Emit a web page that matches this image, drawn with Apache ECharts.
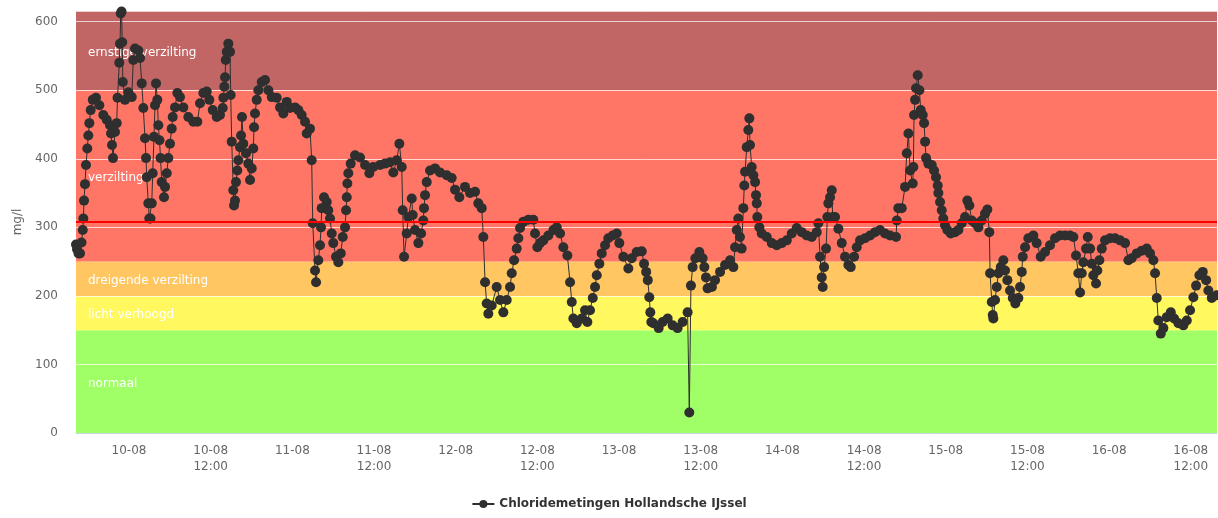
<!DOCTYPE html>
<html>
<head>
<meta charset="utf-8">
<title>Chloridemetingen Hollandsche IJssel</title>
<script src="https://cdn.jsdelivr.net/npm/echarts@6.0.0/dist/echarts.min.js"></script>
<style>
  html, body { margin: 0; padding: 0; background: #fff; }
  #chart { width: 1218px; height: 518px; }
</style>
</head>
<body>
<div id="chart"></div>
<script>
// hours after 10-08 00:00
const hours = [
  -7.79, -7.64, -7.42, -7.20, -6.98, -6.80, -6.71, -6.61, -6.47, -6.32, -6.13, -5.98, -5.83, -5.63, -5.33, -4.85,
  -4.36, -3.78, -3.28, -2.79, -2.64, -2.50, -2.35, -2.06, -1.81, -1.69, -1.43, -1.32, -1.22, -1.10, -1.00, -0.91,
  -0.59, -0.10, 0.40, 0.63, 0.88, 1.37, 1.62, 1.87, 2.10, 2.35, 2.50, 2.60, 2.84, 2.98, 3.16, 3.34,
  3.48, 3.67, 3.82, 3.97, 4.16, 4.31, 4.48, 4.63, 4.80, 5.14, 5.29, 5.54, 5.77, 6.02, 6.27, 6.42,
  6.76, 7.10, 7.49, 7.98, 8.71, 9.45, 10.04, 10.43, 10.92, 11.42, 11.80, 12.30, 12.89, 13.37, 13.77, 13.86,
  14.00, 14.11, 14.21, 14.36, 14.59, 14.84, 14.94, 15.09, 15.32, 15.43, 15.57, 15.72, 15.91, 16.06, 16.31, 16.46,
  16.60, 16.79, 17.19, 17.53, 17.78, 18.03, 18.26, 18.37, 18.51, 18.76, 19.00, 19.50, 19.98, 20.47, 20.97, 21.70,
  22.19, 22.67, 23.17, 23.66, 24.39, 24.88, 25.37, 25.86, 26.11, 26.59, 26.84, 26.99, 27.33, 27.48, 27.81, 28.06,
  28.21, 28.31, 28.65, 29.05, 29.28, 29.53, 29.78, 30.01, 30.41, 30.75, 31.11, 31.40, 31.74, 31.89, 31.99, 32.08,
  32.22, 32.57, 33.21, 33.94, 34.68, 35.31, 35.89, 36.88, 37.61, 38.35, 38.83, 39.33, 39.72, 40.07, 40.21, 40.41,
  40.80, 41.04, 41.54, 41.68, 42.02, 42.51, 42.91, 43.24, 43.34, 43.49, 43.74, 44.23, 44.96, 45.70, 46.68, 47.41,
  47.90, 48.53, 49.36, 50.10, 50.84, 51.32, 51.82, 52.06, 52.31, 52.55, 52.79, 53.29, 54.02, 54.51, 55.00, 55.50,
  55.98, 56.23, 56.57, 56.96, 57.20, 57.45, 57.93, 58.67, 59.40, 59.65, 59.99, 60.39, 60.88, 61.61, 62.35, 62.84,
  63.33, 63.81, 64.40, 64.80, 65.05, 65.28, 65.78, 66.51, 67.00, 67.34, 67.73, 68.13, 68.47, 68.72, 69.10, 69.45,
  69.94, 70.42, 71.07, 71.66, 72.04, 72.63, 73.36, 73.86, 74.59, 75.33, 75.67, 75.98, 76.22, 76.44, 76.59, 76.74,
  77.03, 77.82, 78.40, 79.14, 79.87, 80.60, 81.34, 82.07, 82.32, 82.56, 82.81, 83.21, 83.79, 84.28, 84.53, 84.77,
  85.01, 85.64, 86.10, 86.84, 87.57, 88.31, 88.79, 89.04, 89.29, 89.52, 89.76, 90.01, 90.26, 90.40, 90.51, 90.76,
  90.99, 91.14, 91.24, 91.49, 91.73, 91.98, 92.12, 92.23, 92.31, 92.61, 92.96, 93.70, 94.43, 95.17, 95.90, 96.64,
  97.37, 98.10, 98.84, 99.57, 100.31, 101.04, 101.28, 101.53, 101.78, 101.92, 102.12, 102.41, 102.60, 102.75, 103.00, 103.25,
  103.39, 103.73, 104.22, 104.72, 105.20, 105.69, 106.04, 106.53, 106.92, 107.41, 108.14, 108.88, 109.61, 110.34, 111.08, 111.81,
  112.70, 112.80, 113.03, 113.53, 114.02, 114.27, 114.51, 114.76, 115.15, 115.24, 115.34, 115.49, 115.63, 115.88, 116.12, 116.32,
  116.62, 116.81, 116.96, 117.10, 117.44, 117.94, 118.28, 118.57, 118.82, 118.91, 119.16, 119.41, 119.64, 119.89, 120.23, 120.73,
  121.36, 121.85, 122.35, 122.83, 123.17, 123.47, 123.82, 124.30, 124.79, 125.28, 125.77, 126.11, 126.40, 126.51, 126.76, 126.90,
  126.99, 127.24, 127.49, 127.73, 128.08, 128.46, 128.71, 129.05, 129.44, 129.84, 130.22, 130.67, 130.91, 131.16, 131.31, 131.65,
  132.13, 132.87, 133.36, 133.95, 134.59, 135.32, 136.05, 136.79, 137.52, 138.26, 138.75, 139.14, 139.48, 139.73, 139.98, 140.21,
  140.61, 140.86, 141.20, 141.45, 141.68, 142.08, 142.27, 142.57, 142.92, 143.40, 144.14, 144.87, 145.61, 146.34, 146.83, 147.32,
  148.06, 148.79, 149.53, 150.01, 150.50, 150.75, 151.00, 151.23, 151.59, 151.97, 152.47, 153.06, 153.55, 154.18, 154.91, 155.41,
  155.89, 156.38, 156.78, 157.26, 157.76, 158.25, 158.58, 159.08, 159.81
]

// mg/l
const chloride = [
  275, 268, 262, 262, 278, 296, 313, 339, 363, 391, 415, 434, 452, 471, 486, 489,
  478, 464, 457, 449, 437, 420, 401, 439, 452, 489, 540, 568, 612, 615, 570, 512,
  486, 497, 490, 544, 561, 558, 547, 510, 474, 430, 401, 373, 335, 313, 313, 335,
  379, 432, 478, 510, 486, 449, 427, 401, 366, 344, 359, 379, 401, 422, 444, 461,
  475, 496, 490, 475, 461, 454, 454, 481, 496, 498, 486, 471, 461, 464, 474, 489,
  505, 519, 544, 556, 568, 556, 493, 425, 354, 332, 339, 366, 383, 398, 417, 434,
  461, 422, 408, 393, 369, 386, 415, 446, 466, 486, 500, 512, 515, 500, 490, 489,
  475, 466, 483, 474, 475, 471, 464, 454, 437, 444, 398, 306, 237, 220, 252, 274,
  300, 328, 344, 337, 325, 313, 291, 277, 257, 249, 262, 286, 300, 325, 344, 364,
  379, 393, 405, 402, 391, 379, 388, 391, 393, 395, 380, 398, 422, 388, 325, 257,
  291, 315, 342, 318, 296, 277, 291, 310, 328, 347, 366, 383, 386, 380, 376, 372,
  355, 344, 359, 350, 352, 335, 328, 286, 220, 189, 174, 186, 213, 194, 176, 194,
  213, 233, 252, 269, 284, 299, 308, 311, 311, 291, 271, 277, 281, 288, 296, 300,
  291, 271, 259, 220, 191, 167, 160, 167, 179, 162, 179, 197, 213, 230, 247, 262,
  274, 284, 288, 291, 277, 257, 240, 255, 264, 265, 247, 235, 223, 198, 176, 162,
  160, 153, 162, 167, 157, 153, 162, 176, 30, 215, 242, 255, 264, 255, 242, 227,
  211, 213, 223, 235, 245, 252, 242, 271, 296, 313, 286, 269, 328, 361, 381, 417,
  442, 459, 420, 388, 376, 366, 347, 335, 315, 300, 291, 286, 277, 274, 277, 281,
  291, 299, 293, 288, 286, 293, 306, 257, 227, 213, 242, 269, 315, 335, 344, 354,
  315, 315, 298, 277, 257, 245, 242, 257, 271, 281, 284, 288, 293, 296, 291, 288,
  286, 310, 328, 328, 359, 408, 437, 383, 364, 388, 464, 486, 503, 522, 500, 471,
  464, 452, 425, 401, 393, 391, 383, 373, 361, 350, 337, 325, 313, 303, 296, 291,
  293, 296, 306, 315, 339, 332, 310, 306, 300, 310, 320, 326, 293, 233, 191, 172,
  167, 194, 213, 233, 242, 252, 237, 223, 208, 197, 189, 197, 213, 235, 257, 271,
  284, 288, 277, 257, 264, 274, 284, 288, 288, 288, 286, 259, 233, 205, 233, 249,
  269, 286, 269, 247, 230, 218, 237, 252, 269, 281, 284, 284, 281, 277, 252, 255,
  262, 266, 269, 262, 252, 233, 197, 164, 145, 153, 169, 176, 167, 160, 157, 164,
  179, 198, 215, 230, 235, 223, 208, 197, 201
]

const tickHours = [0, 12, 24, 36, 48, 60, 72, 84, 96, 108, 120, 132, 144, 156]
const tickLabels = ['10-08', '10-08\n12:00', '11-08', '11-08\n12:00', '12-08', '12-08\n12:00', '13-08',
  '13-08\n12:00', '14-08', '14-08\n12:00', '15-08', '15-08\n12:00', '16-08', '16-08\n12:00']

// norm bands (mg/l)
const bandNames = ['normaal', 'licht verhoogd', 'dreigende verzilting', 'verzilting', 'ernstige verzilting']
const bandFrom = [0, 150, 200, 250, 500]
const bandTo = [150, 200, 250, 500, 615.6]
const bandColors = ['#a0ff66', '#fff95f', '#ffc662', '#ff7666', '#c16565']
const limit = 308

const startHour = -7.79
const endHour = 159.85
const yMax = 615.6

const seriesData = hours.map((h, i) => [h, chloride[i]])

const chart = echarts.init(document.getElementById('chart'))
chart.setOption({
  animation: false,
  textStyle: { fontFamily: 'DejaVu Sans' },
  grid: { left: 76, right: 1, top: 11, bottom: 85 },
  legend: {
    bottom: 3,
    itemWidth: 22,
    itemHeight: 10,
    textStyle: { fontSize: 12, fontWeight: 'bold', color: '#333' },
    data: ['Chloridemetingen Hollandsche IJssel']
  },
  xAxis: {
    type: 'value',
    min: startHour,
    max: endHour,
    z: 2,
    axisLine: { lineStyle: { color: '#ccd6eb' } },
    axisTick: { show: false },
    splitLine: { show: false },
    axisLabel: {
      customValues: tickHours,
      color: '#666',
      fontSize: 12,
      lineHeight: 16,
      margin: 10,
      formatter: function (v) {
        const i = tickHours.indexOf(v)
        return i >= 0 ? tickLabels[i] : ''
      }
    }
  },
  yAxis: {
    type: 'value',
    min: 0,
    max: yMax,
    interval: 100,
    z: 2,
    name: 'mg/l',
    nameLocation: 'middle',
    nameGap: 52,
    nameTextStyle: { color: '#666', fontSize: 12 },
    axisLine: { show: false },
    axisTick: { show: false },
    axisLabel: { color: '#666', fontSize: 12, margin: 18, showMaxLabel: false },
    splitLine: { lineStyle: { color: 'rgba(255,255,255,0.7)', width: 1 } }
  },
  series: [
    {
      // achtergrond: normklassen
      type: 'line',
      data: [],
      z: 1,
      silent: true,
      markArea: {
        silent: true,
        label: { position: 'insideLeft', distance: 12, color: '#fff', fontSize: 12, offset: [0, 2] },
        data: bandNames.map((n, i) => [
          { name: n, yAxis: bandFrom[i], itemStyle: { color: bandColors[i] } },
          { yAxis: bandTo[i] }
        ])
      }
    },
    {
      name: 'Chloridemetingen Hollandsche IJssel',
      type: 'line',
      z: 3,
      data: seriesData,
      symbol: 'circle',
      symbolSize: 10,
      showAllSymbol: true,
      color: '#2f2f2f',
      lineStyle: { width: 1, color: '#2f2f2f' },
      markLine: {
        silent: true,
        symbol: ['none', 'none'],
        label: { show: false },
        lineStyle: { color: '#ff0000', width: 2, type: 'solid' },
        data: [{ yAxis: limit }]
      }
    }
  ]
})
</script>
</body>
</html>
